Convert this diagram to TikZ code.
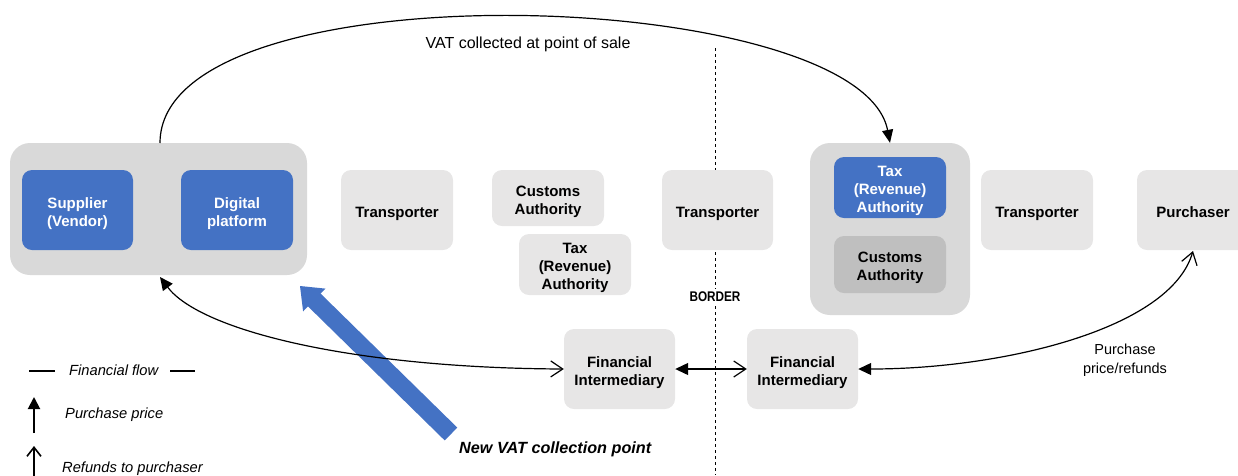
\documentclass[tikz,border=0pt]{standalone}
\usepackage{fontspec}
\setmainfont{Liberation Sans}
\usetikzlibrary{arrows.meta}
\definecolor{myblue}{HTML}{4472C4}
\definecolor{biggray}{HTML}{D9D9D9}
\definecolor{lightbox}{HTML}{E7E6E6}
\definecolor{darkbox}{HTML}{BFBFBF}
\newcommand{\boxtext}[1]{\raisebox{0pt}[\dimexpr\height+7pt\relax][\depth]{\begin{tabular}{@{}c@{}}#1\end{tabular}}}
\tikzset{
  ftip/.tip={Triangle[length=13pt,width=12pt]},
  otip/.tip={Straight Barb[length=12pt,width=16pt,line width=1.2pt]},
  bigbox/.style={fill=biggray, rounded corners=20pt, inner sep=0pt},
  bluebox/.style={fill=myblue, text=white, rounded corners=10pt, inner sep=0pt, font=\fontsize{15}{18}\selectfont\bfseries},
  graybox/.style={fill=lightbox, rounded corners=10pt, inner sep=0pt, font=\fontsize{15}{18}\selectfont\bfseries},
  darkgraybox/.style={fill=darkbox, rounded corners=10pt, inner sep=0pt, font=\fontsize{15}{18}\selectfont\bfseries},
  flow/.style={line width=1.2pt},
  plain/.style={font=\fontsize{14.5}{19}\selectfont},
  legend/.style={font=\fontsize{14.7}{17}\selectfont\itshape, anchor=west, inner sep=0pt}
}
\begin{document}
\begin{tikzpicture}[x=1pt,y=-1pt]
\useasboundingbox (0,0) rectangle (1238,475);
\begin{scope}
\clip (0,0) rectangle (1238,475);
% border line
\coordinate (btop) at (715,48);
\coordinate (bbot) at (715,475);
\draw[dashed, line width=0.9pt] (btop) -- (bbot);
\node[fill=white, inner sep=3pt] (border) at (715,297) {\scalebox{0.84}[1]{\fontsize{14}{16}\selectfont\bfseries BORDER}};

% left group
\node[bigbox, minimum width=297pt, minimum height=132pt] (lbig) at (158.5,209) {};
\node[bluebox, minimum width=111pt, minimum height=80pt] (sup) at (77.5,210) {\boxtext{Supplier\\(Vendor)}};
\node[bluebox, minimum width=112pt, minimum height=80pt] (dig) at (237,210) {\boxtext{Digital\\platform}};

% middle
\node[graybox, minimum width=112pt, minimum height=80pt] (tr1) at (397,210) {\boxtext{Transporter}};
\node[graybox, minimum width=112pt, minimum height=56pt] (cus1) at (548,198) {\boxtext{Customs\\Authority}};
\node[graybox, minimum width=112pt, minimum height=57pt] (tax1) at (575,264.5) {\boxtext{Tax\\(Revenue)\\Authority}};
\node[graybox, minimum width=111pt, minimum height=80pt] (tr2) at (717.5,210) {\boxtext{Transporter}};

% right group
\node[bigbox, minimum width=160pt, minimum height=172pt] (rbig) at (890,229) {};
\node[bluebox, minimum width=112pt, minimum height=57pt] (tax2) at (890,187.5) {\boxtext{Tax\\(Revenue)\\Authority}};
\node[darkgraybox, minimum width=112pt, minimum height=57pt] (cus2) at (890,264.5) {\boxtext{Customs\\Authority}};
\node[graybox, minimum width=112pt, minimum height=80pt] (tr3) at (1037,210) {\boxtext{Transporter}};
\node[graybox, minimum width=112pt, minimum height=80pt] (pur) at (1193,210) {\boxtext{Purchaser}};

% financial intermediaries
\node[graybox, minimum width=111pt, minimum height=80pt] (fi1) at (619.5,369) {\boxtext{Financial\\Intermediary}};
\node[graybox, minimum width=111pt, minimum height=80pt] (fi2) at (802.5,369) {\boxtext{Financial\\Intermediary}};

% top curve
\coordinate (vs) at (160,143);
\draw[flow, -{Triangle[length=13pt,width=11pt]}] (vs) .. controls (160,-36) and (860,-14) .. (rbig.north);
\node[font=\fontsize{16}{19}\selectfont] (vatlabel) at (528,44) {VAT collected at point of sale};

% new VAT collection point block arrow
\fill[myblue] (457.3,427.6) -- (320.6,293.6) -- (325.5,288.6) -- (300,286) -- (303.1,311.4) -- (308.0,306.4) -- (444.7,440.4) -- cycle;
\node[font=\fontsize{16.2}{19}\selectfont\bfseries\itshape, anchor=west, inner sep=0pt] (newvat) at (459,449) {New VAT collection point};

% financial flows
\coordinate (supin) at (160,277);
\draw[flow, ftip-otip] (supin) .. controls (200,330) and (350,368) .. (fi1.west);
\draw[flow, ftip-otip] (fi1.east) -- (fi2.west);
\coordinate (purin) at (1193,251);
\draw[flow, ftip-otip] (fi2.east) .. controls (1000,369) and (1170,330) .. (purin);
\node[plain, align=center] (pplabel) at (1125,360.5) {Purchase\\price/refunds};

% legend
\coordinate (l1a) at (29,371); \coordinate (l1b) at (55,371);
\coordinate (l2a) at (170,371); \coordinate (l2b) at (195,371);
\draw[line width=2.7pt] (l1a) -- (l1b);
\draw[line width=2.7pt] (l2a) -- (l2b);
\node[legend] (lff) at (69,370) {Financial flow};
\coordinate (pa) at (34,433); \coordinate (pb) at (34,397);
\draw[line width=2pt, -{Triangle[length=12pt,width=12pt]}] (pa) -- (pb);
\node[legend] (lpp) at (65,415) {Purchase price};
\coordinate (ra) at (34,476); \coordinate (rb) at (34,446);
\draw[line width=1.6pt, -{Straight Barb[length=9pt,width=14pt,line width=1.6pt]}] (ra) -- (rb);
\node[legend] (lrp) at (62,469) {Refunds to purchaser};
\end{scope}
\end{tikzpicture}
\end{document}
